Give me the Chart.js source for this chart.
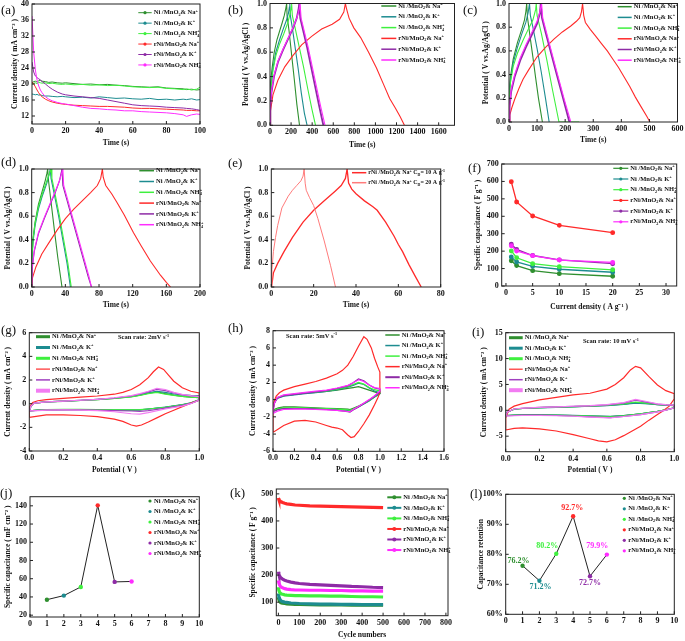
<!DOCTYPE html>
<html>
<head>
<meta charset="utf-8">
<script src="https://cdn.jsdelivr.net/npm/chart.js@4.4.1/dist/chart.umd.min.js"></script>
<style>
body { margin: 0; background: #fff; width: 685px; height: 641px; position: relative; overflow: hidden; }
canvas { position: absolute; }
.tag { position: absolute; z-index: 2; font-family: 'Liberation Serif', serif; font-size: 13px; line-height: 13px; color: #111; }
</style>
</head>
<body>
<div class="tag" style="left:1px;top:3px">(a)</div>
<div class="tag" style="left:228px;top:3px">(b)</div>
<div class="tag" style="left:463px;top:3px">(c)</div>
<div class="tag" style="left:1px;top:155px">(d)</div>
<div class="tag" style="left:228px;top:156px">(e)</div>
<div class="tag" style="left:468px;top:161px">(f)</div>
<div class="tag" style="left:1px;top:323px">(g)</div>
<div class="tag" style="left:228px;top:321px">(h)</div>
<div class="tag" style="left:472px;top:325px">(i)</div>
<div class="tag" style="left:0px;top:486px">(j)</div>
<div class="tag" style="left:230px;top:486px">(k)</div>
<div class="tag" style="left:470px;top:487px">(l)</div>
<script>
// ---- data ----
const names = ['Ni /MnO_{2}& Na^{+}', 'Ni /MnO_{2}& K^{+}', 'Ni /MnO_{2}& NH_{4}^{+}',
  'rNi/MnO_{2}& Na^{+}', 'rNi/MnO_{2}& K^{+}', 'rNi/MnO_{2}& NH_{4}^{+}'];

// (a) current vs time
const aTime = [0,1,2,3,4,5,6,8,10,12,15,18,20,25,30,35,40,45,50,55,60,65,70,75,80,85,90,92,95,98,100];
const aCurrent = [
  [20.3,20.6,20.7,20.5,20.8,20.9,20.7,20.6,20.4,20.5,20.3,20.2,20.3,20.1,19.9,20.0,19.8,19.9,19.7,19.6,19.4,19.3,19.2,19.3,19.0,18.9,18.8,18.6,18.7,18.5,18.6],
  [17.5,17.4,17.3,17.4,17.2,17.3,17.1,17.0,17.0,16.9,16.8,16.9,16.8,16.6,16.7,16.5,16.8,16.6,16.4,16.5,16.3,16.2,16.4,16.1,16.2,16.0,16.2,16.1,16.3,16.0,16.1],
  [20.0,20.2,20.3,20.1,20.4,20.3,20.2,20.3,20.1,20.2,20.0,19.9,20.0,19.8,19.9,19.7,19.8,19.6,19.7,19.5,19.3,19.2,19.1,19.2,18.9,18.8,18.6,18.8,18.5,18.7,19.2],
  [20.6,20.0,19.3,18.5,17.8,17.2,16.8,16.2,15.8,15.5,15.2,15.0,14.9,14.7,14.6,14.5,14.4,14.4,14.3,14.2,14.0,13.9,13.9,13.8,13.7,13.6,13.5,13.4,13.4,13.3,13.3],
  [25.5,23.0,22.0,21.6,21.3,21.0,20.6,20.0,19.3,18.7,18.0,17.5,17.3,17.0,16.8,16.6,16.4,16.0,15.6,15.2,14.8,14.6,14.5,14.4,14.2,14.1,14.0,13.9,13.8,13.6,13.4],
  [37.0,28.0,23.5,21.0,19.5,18.5,17.8,16.8,16.2,15.8,15.4,15.1,15.0,14.6,14.2,13.9,13.8,13.6,13.5,13.3,13.3,13.1,13.0,12.9,12.8,12.6,12.3,11.9,12.3,12.5,12.4]
];

// (b) charge/discharge, low current
const bTime = [
  [0,2,8,20,40,65,90,115,135,150,158,162,180,205,230,255,280],
  [0,2,10,28,55,90,125,155,175,184,188,193,212,240,268,296,326,352],
  [0,2,10,28,55,92,130,168,192,202,205,212,238,278,318,358,398,432],
  [0,5,28,75,140,215,300,395,490,590,660,700,715,725,750,795,860,935,1010,1075,1135,1190,1235,1275],
  [0,3,14,38,76,124,172,220,254,272,277,287,314,352,390,428,466,506],
  [0,3,14,38,77,126,175,222,258,279,285,295,323,362,401,440,482,522]
];
const bPot = [
  [0,0.22,0.35,0.47,0.6,0.7,0.77,0.84,0.9,0.96,1.0,0.9,0.78,0.58,0.38,0.17,0],
  [0,0.2,0.33,0.47,0.6,0.7,0.79,0.86,0.92,0.97,1.0,0.9,0.8,0.63,0.46,0.27,0.1,0],
  [0,0.18,0.3,0.45,0.57,0.67,0.75,0.84,0.92,0.97,1.0,0.9,0.8,0.64,0.48,0.3,0.13,0],
  [0,0.12,0.25,0.37,0.48,0.57,0.66,0.73,0.79,0.83,0.87,0.93,1.0,0.96,0.88,0.8,0.72,0.6,0.47,0.34,0.22,0.14,0.07,0],
  [0,0.15,0.27,0.4,0.52,0.62,0.71,0.8,0.88,0.96,1.0,0.88,0.78,0.64,0.48,0.32,0.16,0],
  [0,0.16,0.28,0.41,0.53,0.63,0.72,0.81,0.89,0.96,1.0,0.88,0.78,0.64,0.48,0.32,0.15,0]
];

// (c)
const cTime = [
  [0,1,5,15,30,45,55,60,63,66,75,85,95,105,119],
  [0,1,5,15,30,45,60,68,73,76,85,100,115,130,143],
  [0,1,5,15,30,50,70,85,95,97,100,115,135,155,178,250],
  [0,3,10,20,35,50,70,100,130,160,190,220,240,252,258,262,266,272,290,310,330,350,370,390,410,430,450,470,490,502],
  [0,2,8,20,40,60,80,100,110,113,117,130,150,170,195,215],
  [0,2,8,20,40,60,80,100,110,116,120,133,153,173,198,220]
];
const cPot = [
  [0,0.25,0.38,0.53,0.67,0.78,0.86,0.93,1.0,0.88,0.72,0.55,0.37,0.2,0],
  [0,0.22,0.35,0.5,0.63,0.74,0.84,0.92,1.0,0.9,0.8,0.62,0.42,0.2,0],
  [0,0.2,0.33,0.47,0.58,0.69,0.79,0.86,0.95,1.0,0.9,0.75,0.52,0.27,0,0],
  [0,0.06,0.12,0.19,0.28,0.36,0.44,0.55,0.63,0.7,0.76,0.81,0.85,0.88,0.93,1.0,0.9,0.84,0.78,0.72,0.66,0.6,0.53,0.46,0.38,0.3,0.21,0.13,0.05,0],
  [0,0.13,0.26,0.38,0.52,0.63,0.73,0.83,0.92,1.0,0.88,0.76,0.58,0.4,0.18,0],
  [0,0.14,0.28,0.4,0.54,0.65,0.75,0.85,0.93,1.0,0.88,0.76,0.58,0.4,0.18,0]
];

// (d)
const dTime = [
  [0,0.3,1.5,4,8,12,16,18,19,20,23,27,31,36],
  [0,0.3,1.5,4,8,13,18,21,22,23,27,32,37,42,46],
  [0,0.3,1.5,4,8,13,18,21.5,23,24,28,33,38,43,47],
  [0,1,5,12,20,30,40,50,60,70,78,82,84,85,88,95,101,110,121,130,141,153,160,165],
  [0,0.5,3,8,15,22,28,33,36,37,41,48,55,62,67,71],
  [0,0.5,3,8,15,22,28,33,37,38,42,49,56,63,68,71]
];
const dPot = [
  [0,0.25,0.4,0.55,0.7,0.8,0.9,0.96,1.0,0.9,0.72,0.48,0.25,0],
  [0,0.22,0.38,0.52,0.66,0.78,0.88,0.96,1.0,0.92,0.78,0.6,0.4,0.2,0],
  [0,0.24,0.4,0.54,0.68,0.8,0.9,0.97,1.0,0.92,0.78,0.6,0.4,0.2,0],
  [0,0.08,0.17,0.28,0.37,0.48,0.58,0.66,0.73,0.8,0.86,0.92,1.0,0.93,0.86,0.79,0.72,0.61,0.46,0.35,0.22,0.1,0.04,0],
  [0,0.15,0.3,0.45,0.58,0.7,0.8,0.9,1.0,0.86,0.76,0.58,0.4,0.22,0.09,0],
  [0,0.16,0.31,0.46,0.59,0.71,0.81,0.9,1.0,0.86,0.76,0.58,0.4,0.22,0.09,0]
];

// (e) rNi/MnO2 & Na+ at 10 and 20 A/g
const eNames = ['rNi /MnO_{2}& Na^{+} C_{D}= 10 A g^{-1}', 'rNi /MnO_{2}& Na^{+} C_{D}= 20 A g^{-1}'];
const eTime = [
  [0,0.5,1,3,6,10,15,20,25,30,33,35,35.8,36.5,38,40,44,48,50,54,58,60,62,65,68,70.8],
  [0,0.3,1,2,3,5,8,10,12,14,15,15.5,16,16.5,18,20,22,25,28,30.3]
];
const ePot = [
  [0,0.05,0.12,0.2,0.3,0.42,0.55,0.65,0.73,0.81,0.86,0.92,1.0,0.88,0.83,0.79,0.73,0.68,0.65,0.55,0.43,0.36,0.3,0.19,0.09,0],
  [0,0.15,0.3,0.42,0.52,0.67,0.77,0.82,0.86,0.9,0.94,1.0,0.88,0.82,0.76,0.69,0.58,0.39,0.18,0]
];

// (f) rate capability
const fDensity = [1, 2, 5, 10, 20];
const fCap = [
  [145,117,88,71,56],
  [166,138,113,96,79],
  [201,162,128,111,93],
  [598,482,402,348,306],
  [240,210,175,150,128],
  [231,201,174,149,135]
];

// (g) CV 2 mV/s
const gX = [0,0.01,0.03,0.1,0.2,0.3,0.4,0.5,0.6,0.65,0.7,0.75,0.8,0.85,0.9,0.95,1.0,1.0,0.95,0.9,0.8,0.7,0.65,0.6,0.5,0.4,0.3,0.2,0.1,0.05,0];
const gY = [
  [-0.6,-0.2,0.05,0.15,0.2,0.27,0.35,0.45,0.6,0.72,0.88,1.0,0.85,0.72,0.62,0.55,0.5,0.3,0.05,-0.1,-0.3,-0.45,-0.52,-0.55,-0.55,-0.52,-0.5,-0.5,-0.52,-0.55,-0.6],
  [-0.6,-0.2,0.05,0.15,0.22,0.28,0.36,0.46,0.62,0.75,0.92,1.05,0.95,0.82,0.74,0.7,0.68,0.35,0.08,-0.08,-0.28,-0.45,-0.52,-0.55,-0.55,-0.52,-0.5,-0.5,-0.52,-0.55,-0.6],
  [-0.6,-0.2,0.05,0.15,0.21,0.27,0.34,0.44,0.58,0.7,0.85,0.95,0.8,0.7,0.62,0.56,0.5,0.3,0.05,-0.1,-0.3,-0.45,-0.5,-0.52,-0.52,-0.5,-0.48,-0.48,-0.5,-0.55,-0.6],
  null,
  [-0.6,-0.2,0.05,0.15,0.22,0.29,0.37,0.48,0.65,0.8,1.0,1.2,1.1,0.9,0.75,0.65,0.6,0.3,0.02,-0.15,-0.38,-0.58,-0.65,-0.62,-0.58,-0.55,-0.52,-0.52,-0.54,-0.57,-0.6],
  [-0.6,-0.2,0.05,0.15,0.22,0.29,0.37,0.5,0.68,0.85,1.05,1.3,1.2,0.95,0.78,0.68,0.6,0.3,0.0,-0.2,-0.45,-0.75,-0.88,-0.85,-0.68,-0.58,-0.54,-0.53,-0.55,-0.58,-0.6]
];
const gRedX = [0,0,0.02,0.05,0.1,0.2,0.3,0.4,0.5,0.55,0.6,0.65,0.7,0.73,0.76,0.79,0.82,0.85,0.9,0.95,1.0,1.0,0.95,0.9,0.85,0.8,0.75,0.7,0.66,0.63,0.6,0.55,0.5,0.4,0.3,0.2,0.1,0.05,0];
const gRedY = [-1.15,-0.3,0.1,0.25,0.35,0.45,0.55,0.65,0.8,0.95,1.2,1.6,2.2,2.7,3.1,2.9,2.4,1.9,1.35,1.05,0.9,0.3,0.05,-0.25,-0.55,-0.85,-1.2,-1.55,-1.8,-1.9,-1.8,-1.5,-1.3,-1.1,-1.0,-0.95,-0.95,-1.05,-1.15];

// (h) CV 5 mV/s
const hX = [0,0.01,0.04,0.1,0.2,0.3,0.4,0.5,0.6,0.7,0.75,0.8,0.85,0.9,0.95,1.0,1.0,0.95,0.9,0.85,0.8,0.75,0.72,0.7,0.6,0.5,0.4,0.3,0.2,0.1,0.05,0];
const hY = [
  [-1.2,-0.4,0.2,0.45,0.6,0.75,0.85,0.95,1.1,1.3,1.4,1.5,1.3,1.1,0.9,0.7,0.7,0.3,-0.1,-0.45,-0.75,-1.0,-1.15,-1.1,-1.05,-1.0,-0.95,-0.9,-0.85,-0.85,-0.95,-1.2],
  [-1.3,-0.4,0.15,0.4,0.55,0.7,0.82,0.95,1.15,1.45,1.65,1.9,1.75,1.35,1.0,0.8,0.7,0.3,-0.15,-0.5,-0.85,-1.15,-1.3,-1.25,-1.15,-1.1,-1.05,-1.0,-1.0,-1.0,-1.1,-1.3],
  [-1.3,-0.4,0.25,0.5,0.65,0.8,0.9,1.0,1.2,1.5,1.75,2.0,1.8,1.4,1.15,1.0,0.8,0.35,-0.1,-0.45,-0.8,-1.1,-1.25,-1.2,-1.1,-1.05,-1.0,-0.95,-0.95,-0.95,-1.05,-1.3],
  null,
  [-1.4,-0.5,0.2,0.45,0.6,0.75,0.9,1.05,1.3,1.6,1.95,2.4,2.2,1.7,1.35,1.2,0.9,0.4,-0.05,-0.45,-0.85,-1.2,-1.45,-1.4,-1.25,-1.15,-1.1,-1.05,-1.05,-1.05,-1.15,-1.4],
  [-1.6,-0.5,0.25,0.55,0.7,0.85,0.98,1.1,1.35,1.65,1.95,2.3,2.1,1.7,1.4,1.3,1.0,0.45,0.0,-0.4,-0.8,-1.15,-1.4,-1.38,-1.25,-1.2,-1.15,-1.1,-1.1,-1.15,-1.3,-1.6]
];
const hRedX = [0,0,0.01,0.03,0.06,0.1,0.2,0.3,0.4,0.5,0.6,0.65,0.7,0.75,0.8,0.85,0.88,0.92,0.95,0.98,1.0,1.0,0.98,0.95,0.9,0.85,0.8,0.76,0.73,0.7,0.65,0.6,0.55,0.5,0.4,0.3,0.2,0.1,0.05,0];
const hRedY = [-3.8,-1.5,-0.2,0.4,0.8,1.1,1.5,1.8,2.1,2.5,3.0,3.4,4.0,5.0,6.2,7.3,7.0,6.0,4.8,3.8,3.2,0.8,0.2,-0.6,-1.8,-2.8,-3.7,-4.3,-4.4,-4.1,-3.5,-3.3,-3.2,-3.0,-2.6,-2.4,-2.5,-3.0,-3.4,-3.8];

// (i) CV 10 mV/s
const iX = [0,0.01,0.05,0.1,0.2,0.3,0.4,0.5,0.6,0.7,0.77,0.85,0.9,0.95,1.0,1.0,0.95,0.9,0.8,0.7,0.62,0.5,0.4,0.3,0.2,0.1,0.05,0];
const iY = [
  [-1.0,-0.3,0.2,0.35,0.5,0.6,0.7,0.8,0.95,1.2,1.5,1.3,1.1,1.0,0.9,0.5,0.1,-0.2,-0.7,-1.0,-1.2,-1.1,-1.0,-0.95,-0.9,-0.9,-0.95,-1.0],
  [-1.0,-0.3,0.2,0.35,0.48,0.58,0.68,0.78,0.92,1.15,1.4,1.25,1.1,1.0,0.95,0.5,0.1,-0.2,-0.7,-1.0,-1.15,-1.05,-0.98,-0.92,-0.9,-0.9,-0.95,-1.0],
  [-1.0,-0.3,0.22,0.38,0.52,0.62,0.72,0.82,0.98,1.25,1.6,1.35,1.15,1.05,0.95,0.5,0.1,-0.2,-0.7,-1.05,-1.25,-1.12,-1.02,-0.96,-0.92,-0.92,-0.96,-1.0],
  null,
  [-1.1,-0.3,0.25,0.4,0.55,0.65,0.75,0.87,1.05,1.4,1.95,1.5,1.2,1.05,0.95,0.5,0.05,-0.3,-0.85,-1.2,-1.4,-1.25,-1.1,-1.0,-0.95,-0.95,-1.0,-1.1],
  [-1.1,-0.3,0.25,0.42,0.57,0.68,0.78,0.9,1.1,1.5,2.1,1.6,1.25,1.1,1.0,0.5,0.05,-0.3,-0.85,-1.2,-1.45,-1.3,-1.15,-1.05,-1.0,-1.0,-1.05,-1.1]
];
const iRedX = [0,0,0.02,0.05,0.1,0.2,0.3,0.4,0.5,0.6,0.65,0.7,0.74,0.77,0.8,0.85,0.9,0.95,1.0,1.0,0.97,0.93,0.9,0.85,0.8,0.75,0.7,0.65,0.6,0.55,0.5,0.4,0.3,0.2,0.1,0.05,0];
const iRedY = [-3.8,-1.5,0.2,0.8,1.3,2.0,2.5,3.0,3.3,4.1,5.0,6.3,7.8,8.5,8.2,6.5,4.9,3.8,3.2,2.2,0.8,-0.2,-0.8,-1.9,-3.1,-4.0,-4.9,-5.7,-6.1,-5.9,-5.5,-4.7,-4.0,-3.6,-3.4,-3.5,-3.8];

// (j) areal capacitance, (l) retention
const sampleNo = [1, 2, 3, 4, 5, 6];
const jCap = [37, 41.5, 51, 140.5, 56.5, 57];
const lRet = [76.2, 71.2, 80.2, 92.7, 72.7, 79.9];

// (k) cycling
const kCycle = [0,2,5,10,15,20,30,40,60,80,100,150,200,250,300,350,400,450,500];
const kCap = [
  [118,110,104,99,97,96,95,94,93,92,92,91,90,90,90,89,89,89,89],
  [132,122,114,107,104,102,100,99,97,96,95,94,93,93,92,92,91,91,91],
  [155,145,138,133,130,129,127,126,125,124,124,123,123,122,122,121,120,120,119],
  [485,480,476,472,470,468,465,463,461,459,458,456,455,454,453,452,451,450,449],
  [212,205,198,192,188,185,181,178,174,171,169,166,164,162,160,158,157,155,154],
  [180,172,165,158,155,153,150,148,146,145,145,144,144,143,143,142,142,141,141]
];

// axis ticks
const t01 = [0, 0.2, 0.4, 0.6, 0.8, 1.0];
const aXTicks = [0, 20, 40, 60, 80, 100], aYTicks = [12, 16, 20, 24, 28, 32, 36, 40];
const bXTicks = [0, 200, 400, 600, 800, 1000, 1200, 1400, 1600];
const cXTicks = [0, 100, 200, 300, 400, 500, 600];
const dXTicks = [0, 40, 80, 120, 160, 200];
const eXTicks = [0, 20, 40, 60, 80];
const fXTicks = [0, 5, 10, 15, 20, 25, 30], fYTicks = [0, 100, 200, 300, 400, 500, 600, 700];
const gYTicks = [-4, -2, 0, 2, 4, 6];
const hXTicks = [0, 0.2, 0.4, 0.6, 0.8, 1.0, 1.2, 1.4, 1.6], hYTicks = [-6, -4, -2, 0, 2, 4, 6, 8];
const iYTicks = [-5, 0, 5, 10, 15];
const tenTicks = [0, 1, 2, 3, 4, 5, 6, 7, 8, 9, 10];
const jYTicks = [20, 40, 60, 80, 100, 120, 140];
const kXTicks = [0, 100, 200, 300, 400, 500, 600, 700, 800], kYTicks = [100, 200, 300, 400, 500];
const lYTicks = [60, 70, 80, 90, 100];

// ---- drawing ----
const C = ['#2f8f2f', '#1d8c90', '#3ef03e', '#ff2a2a', '#8e2ba6', '#ff2cff'];
const FAM = "'Liberation Serif', 'Times New Roman', serif";
Chart.defaults.font.family = FAM;
Chart.defaults.font.weight = 'bold';
Chart.defaults.color = '#111';
const extras = {};

function drawRich(ctx, str, x, y, fs, color) {
  const parts = str.split(/(_\{[^}]*\}|\^\{[^}]*\})/).filter(p => p !== '');
  let cx = x, subStart = null;
  ctx.fillStyle = color || '#111';
  ctx.textBaseline = 'middle';
  ctx.textAlign = 'left';
  parts.forEach(p => {
    if (p.startsWith('_{')) {
      const t = p.slice(2, -1);
      ctx.font = 'bold ' + (fs * 0.65) + 'px ' + FAM;
      ctx.fillText(t, cx, y + fs * 0.3);
      subStart = cx;
      cx += ctx.measureText(t).width;
    } else if (p.startsWith('^{')) {
      const t = p.slice(2, -1);
      ctx.font = 'bold ' + (fs * 0.65) + 'px ' + FAM;
      const sx = subStart !== null ? subStart : cx;
      ctx.fillText(t, sx, y - fs * 0.35);
      cx = Math.max(cx, sx + ctx.measureText(t).width);
      subStart = null;
    } else {
      ctx.font = 'bold ' + fs + 'px ' + FAM;
      ctx.fillText(p, cx, y);
      cx += ctx.measureText(p).width;
      subStart = null;
    }
  });
}

// box round the plot and small inward ticks
const framePlugin = {
  id: 'frame',
  afterDatasetsDraw(chart) {
    const {ctx, chartArea: a, scales} = chart;
    ctx.save();
    ctx.strokeStyle = '#222';
    ctx.lineWidth = 1;
    ctx.strokeRect(a.left, a.top, a.right - a.left, a.bottom - a.top);
    ctx.beginPath();
    scales.x.ticks.forEach(t => {
      const px = scales.x.getPixelForValue(t.value);
      ctx.moveTo(px, a.bottom); ctx.lineTo(px, a.bottom - 3);
    });
    scales.y.ticks.forEach(t => {
      const py = scales.y.getPixelForValue(t.value);
      ctx.moveTo(a.left, py); ctx.lineTo(a.left + 3, py);
    });
    ctx.stroke();
    ctx.restore();
  }
};

// legend inside the plot, notes and % labels
const legendPlugin = {
  id: 'lgd',
  afterDraw(chart) {
    const ex = extras[chart.canvas.id];
    if (!ex) return;
    const ctx = chart.ctx, ox = chart.canvas.offsetLeft, oy = chart.canvas.offsetTop;
    ctx.save();
    const o = ex.lg;
    let row = 0;
    chart.data.datasets.forEach(ds => {
      if (ds.noLeg) return;
      const x = o.x - ox, y = o.y + row * o.dy - oy;
      const col = ds.legColor || ds.borderColor || ds.backgroundColor;
      if (o.mode !== 'dot') {
        ctx.strokeStyle = col;
        ctx.lineWidth = ds.legW || o.lw || 1.2;
        ctx.beginPath(); ctx.moveTo(x, y); ctx.lineTo(x + o.len, y); ctx.stroke();
      }
      if (o.mode === 'dot' || o.mode === 'mark') {
        ctx.fillStyle = col;
        ctx.beginPath(); ctx.arc(x + o.len / 2, y, o.r || 1.6, 0, Math.PI * 2); ctx.fill();
      }
      drawRich(ctx, ds.label, x + o.len + 2, y, o.fs);
      row++;
    });
    (ex.notes || []).forEach(n => drawRich(ctx, n.t, n.x - ox, n.y - oy, o.fs));
    if (ex.pct) {
      chart.data.datasets.forEach((ds, i) => {
        if (!ds.noLeg) {
          const el = chart.getDatasetMeta(i).data[0];
          const k = i - 1;
          ctx.font = 'bold ' + ex.pct.fs + 'px ' + FAM;
          ctx.fillStyle = ds.backgroundColor;
          ctx.textAlign = 'center';
          ctx.textBaseline = 'middle';
          ctx.fillText(ds.data[0].y.toFixed(1) + '%', el.x + ex.pct.dx[k], el.y + ex.pct.dy[k]);
        }
      });
    }
    ctx.restore();
  }
};

function axis(dir, s, size) {
  return {
    type: 'linear', min: s.min, max: s.max,
    grid: {display: false, drawTicks: false},
    border: {display: false},
    afterBuildTicks: a => { a.ticks = s.ticks.map(v => ({value: v})); },
    afterFit: a => { if (dir === 'x') a.height = size; else a.width = size; },
    ticks: {font: {size: 8, weight: 'bold'}, color: '#111', padding: dir === 'x' ? 2 : 3,
      maxRotation: 0, autoSkip: false, callback: s.fmt || (v => v)},
    title: {display: !!s.title, text: s.title || '', padding: 0, font: {size: 7.5, weight: 'bold'}, color: '#111'}
  };
}

function panel(id, geo, datasets, sc, extra) {
  const [L, T, R, B] = geo.plot;
  const lh = 7.5 * 1.2;
  const cl = Math.round(geo.ytx - lh / 2), ct = Math.round(T - 12);
  const cr = Math.round(R + 12), cb = Math.round((geo.xty || B + 22) + lh / 2);
  const cv = document.createElement('canvas');
  cv.id = id;
  cv.width = cr - cl; cv.height = cb - ct;
  cv.style.left = cl + 'px'; cv.style.top = ct + 'px';
  document.body.appendChild(cv);
  extras[id] = extra;
  datasets.forEach((d, i) => { d.order = -i; });
  new Chart(cv, {
    type: 'line',
    data: {datasets: datasets},
    options: {
      responsive: false, animation: false, events: [],
      layout: {autoPadding: false, padding: {top: T - ct, right: cr - R, left: 0, bottom: 0}},
      plugins: {legend: {display: false}, tooltip: {enabled: false}},
      elements: {point: {radius: 0}, line: {tension: 0}},
      scales: {x: axis('x', sc.x, cb - B), y: axis('y', sc.y, L - cl)}
    },
    plugins: [framePlugin, legendPlugin]
  });
}

function xy(xs, ys) { return xs.map((x, k) => ({x: x, y: ys[k]})); }
function gcd(times, pots, widths) {
  return times.map((t, i) => ({label: names[i], data: xy(t, pots[i]), borderColor: C[i], borderWidth: widths ? widths[i] : 1.1}));
}
function cv(xs, ys, redX, redY, cols, legW) {
  return names.map((n, i) => ({
    label: n,
    data: i === 3 ? xy(redX, redY) : xy(xs, ys[i]),
    borderColor: cols[i], borderWidth: 1.2, legW: legW[i]
  }));
}
const f1 = v => v.toFixed(1);
const potTitle = 'Potential ( V vs.Ag/AgCl )';
const cdTitle = 'Current density ( mA cm⁻² )';

// (a)
panel('pa', {plot: [32, 4, 200, 124], ytx: 15, xty: 143},
  aCurrent.map((ys, i) => ({label: names[i], data: xy(aTime, ys), borderColor: C[i], borderWidth: 1})),
  {x: {min: 0, max: 100, ticks: aXTicks, title: 'Time (s)'}, y: {min: 10, max: 40, ticks: aYTicks, title: cdTitle}},
  {lg: {x: 138.3, y: 12.7, dy: 10.45, len: 13.4, fs: 6.5, mode: 'mark', lw: 1}});

// (b)
panel('pb', {plot: [270, 3.5, 454.5, 125.3], ytx: 246.3, xty: 145},
  gcd(bTime, bPot, [1.1, 1.1, 1.1, 1.1, 1.8, 1.1]),
  {x: {min: 0, max: 1750, ticks: bXTicks, title: 'Time (s)'}, y: {min: 0, max: 1, ticks: t01, title: potTitle, fmt: f1}},
  {lg: {x: 381.3, y: 6, dy: 10.8, len: 15, fs: 6.5, mode: 'line', lw: 1.5}});

// (c)
panel('pc', {plot: [509, 3.5, 677.5, 122], ytx: 486.7, xty: 140},
  gcd(cTime, cPot, [1.1, 1.1, 1.1, 1.1, 1.8, 1.1]),
  {x: {min: 0, max: 600, ticks: cXTicks, title: 'Time (s)'}, y: {min: 0, max: 1, ticks: t01, title: potTitle, fmt: f1}},
  {lg: {x: 617.7, y: 6.7, dy: 10.7, len: 14, fs: 6.5, mode: 'line', lw: 1.5}});

// (d)
panel('pd', {plot: [31.7, 169, 200, 287], ytx: 8.3, xty: 305},
  gcd(dTime, dPot),
  {x: {min: 0, max: 200, ticks: dXTicks, title: 'Time (s)'}, y: {min: 0, max: 1, ticks: t01, title: potTitle, fmt: f1}},
  {lg: {x: 139.3, y: 170.7, dy: 10.8, len: 14.7, fs: 6.5, mode: 'line', lw: 1.5}});

// (e)
panel('pe', {plot: [271.3, 169, 440.7, 287], ytx: 248.7, xty: 305.7},
  eTime.map((t, i) => ({label: eNames[i], data: xy(t, ePot[i]), borderColor: i ? '#ff7b7b' : '#ff2a2a', borderWidth: i ? 1 : 1.3})),
  {x: {min: 0, max: 80, ticks: eXTicks, title: 'Time (s)'}, y: {min: 0, max: 1, ticks: t01, title: potTitle, fmt: f1}},
  {lg: {x: 352, y: 172.7, dy: 10, len: 14.3, fs: 6, mode: 'line', lw: 1.5}});

// (f)
panel('pf', {plot: [501.7, 164, 676.7, 286], ytx: 478.3, xty: 307.7},
  fCap.map((ys, i) => ({label: names[i], data: xy(fDensity, ys), borderColor: C[i], backgroundColor: C[i],
    borderWidth: 1.3, pointRadius: 1.8, pointBackgroundColor: C[i]})),
  {x: {min: -0.8, max: 32, ticks: fXTicks, title: 'Current density ( A g⁻¹ )'}, y: {min: 0, max: 700, ticks: fYTicks, title: 'Specific capacitance ( F g⁻¹ )'}},
  {lg: {x: 613.3, y: 168.3, dy: 10.7, len: 15, fs: 6.5, mode: 'mark', lw: 1.2}});

// (g)
panel('pg', {plot: [29.3, 332.7, 199.3, 451], ytx: 8.3, xty: 470},
  cv(gX, gY, gRedX, gRedY, [C[0], C[1], C[2], C[3], '#a040c0', '#f27cf2'], [3, 3, 3, 1.2, 1.5, 4]),
  {x: {min: 0, max: 1, ticks: t01, title: 'Potential ( V )', fmt: f1}, y: {min: -4, max: 6, ticks: gYTicks, title: cdTitle}},
  {lg: {x: 36, y: 336.7, dy: 10.8, len: 14, fs: 6.5, mode: 'line'},
   notes: [{t: 'Scan rate: 2mV s^{-1}', x: 118, y: 337.7}]});

// (h)
panel('ph', {plot: [273, 330.7, 444, 451.3], ytx: 253, xty: 470},
  cv(hX, hY, hRedX, hRedY, C, [1.5, 1.5, 1.5, 1.5, 2, 1.5]),
  {x: {min: 0, max: 1.6, ticks: hXTicks, title: 'Potential ( V )', fmt: f1}, y: {min: -6, max: 8, ticks: hYTicks, title: cdTitle}},
  {lg: {x: 385.3, y: 335, dy: 10.55, len: 14.4, fs: 6.5, mode: 'line'},
   notes: [{t: 'Scan rate: 5mV s^{-1}', x: 286, y: 336}]});

// (i)
panel('pi', {plot: [505.7, 332.7, 674.3, 451.7], ytx: 484.3, xty: 470},
  cv(iX, iY, iRedX, iRedY, [C[0], C[1], C[2], C[3], '#a040c0', '#f27cf2'], [3, 3, 3, 1.2, 1.5, 4]),
  {x: {min: 0, max: 1, ticks: t01, title: 'Potential ( V )', fmt: f1}, y: {min: -8, max: 15, ticks: iYTicks, title: cdTitle}},
  {lg: {x: 509, y: 337.7, dy: 10.5, len: 13.7, fs: 6.5, mode: 'line'},
   notes: [{t: 'Scan rate: 10 mV s^{-1}', x: 583, y: 341.7}]});

// (j) and (l): black joining line plus one coloured point per sample
function dotsPanel(vals) {
  const sets = [{label: '', noLeg: true, data: xy(sampleNo, vals), borderColor: '#222', borderWidth: 1}];
  vals.forEach((v, i) => sets.push({label: names[i], data: [{x: sampleNo[i], y: v}], borderColor: C[i],
    backgroundColor: C[i], showLine: false, pointRadius: 2.2, pointBorderWidth: 0, pointBackgroundColor: C[i]}));
  return sets;
}
panel('pj', {plot: [30, 496.7, 199.3, 617], ytx: 8.3},
  dotsPanel(jCap),
  {x: {min: 0, max: 10, ticks: tenTicks}, y: {min: 18, max: 150, ticks: jYTicks, title: 'Specific capacitance ( mF cm⁻² )'}},
  {lg: {x: 148, y: 501, dy: 10.5, len: 4, fs: 6.5, mode: 'dot'}});

// (k)
panel('pk', {plot: [276.3, 489, 448, 615.7], ytx: 253, xty: 635},
  kCap.map((ys, i) => ({label: names[i], data: xy(kCycle, ys), borderColor: C[i], borderWidth: 3.2})),
  {x: {min: -10, max: 810, ticks: kXTicks, title: 'Cycle numbers'}, y: {min: 50, max: 518, ticks: kYTicks, title: 'Specific capacitance ( F g⁻¹ )'}},
  {lg: {x: 387.3, y: 497.3, dy: 10.55, len: 14, fs: 6.5, mode: 'mark', lw: 2, r: 2}});

// (l)
panel('pl', {plot: [505.7, 494.3, 674.3, 614.3], ytx: 481.7},
  dotsPanel(lRet),
  {x: {min: 0, max: 10, ticks: tenTicks}, y: {min: 60, max: 100, ticks: lYTicks, title: 'Capacitance retention', fmt: v => v + '%'}},
  {lg: {x: 622.3, y: 498.3, dy: 10.5, len: 4, fs: 6.5, mode: 'dot'},
   pct: {fs: 8, dx: [-4, 1, -9, -1, 0, -9.7], dy: [-5, 6.5, -8, -8, 6.5, -8.7]}});
</script>
</body>
</html>
